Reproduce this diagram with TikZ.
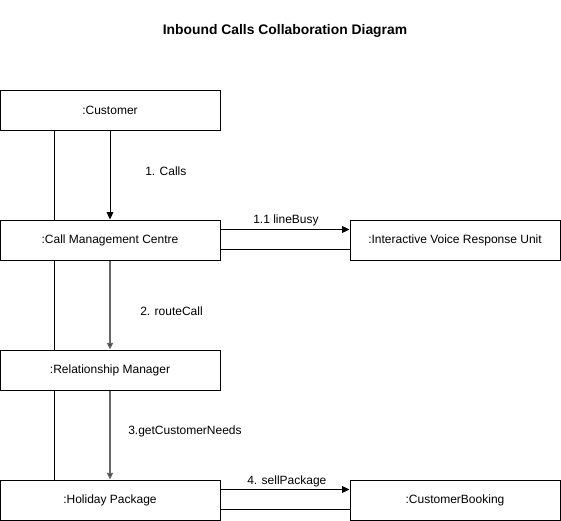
\documentclass[tikz,border=0pt]{standalone}
\usepackage{fontspec}
\setmainfont{Liberation Sans}
\usetikzlibrary{arrows.meta}
\begin{document}
\begin{tikzpicture}[x=0.75pt,y=-0.75pt,
  obj/.style={draw=black,line width=0.75pt,fill=white,minimum height=30pt,inner sep=0pt,font=\fontsize{9}{11}\selectfont},
  wide/.style={obj,minimum width=165pt},
  msg/.style={line width=0.75pt,-{Triangle[length=5.5pt,width=5pt]}},
  gmsg/.style={msg,line width=1.1pt,draw=black!60,-{Triangle[length=5pt,width=4.5pt,fill=black]}},
  link/.style={line width=0.75pt},
  lbl/.style={font=\fontsize{9}{11}\selectfont,inner sep=0pt,anchor=west}]
\useasboundingbox (0,0) rectangle (561,521);
\node[font=\bfseries\fontsize{10.4}{12}\selectfont] (title) at (285,31) {Inbound Calls Collaboration Diagram};
\node[wide] (cust) at (110,110) {:Customer};
\node[wide] (cmc) at (110,240) {:Call Management Centre};
\node[obj,minimum width=157.5pt] (ivr) at (455,240) {:Interactive Voice Response Unit};
\node[wide] (rm) at (110,370) {:Relationship Manager};
\node[wide] (hp) at (110,500) {:Holiday Package};
\node[obj,minimum width=157.5pt] (cb) at (455,500) {:CustomerBooking};
% links
\draw[link] ([xshift=41.25pt]cust.south west) -- ([xshift=41.25pt]cmc.north west);
\draw[link] ([xshift=41.25pt]cmc.south west) -- ([xshift=41.25pt]rm.north west);
\draw[link] ([xshift=41.25pt]rm.south west) -- ([xshift=41.25pt]hp.north west);
\draw[link] ([yshift=-22.5pt]cmc.north east) -- ([yshift=-22.5pt]ivr.north west);
\draw[link] ([yshift=-22.5pt]hp.north east) -- ([yshift=-22.5pt]cb.north west);
% messages
\draw[msg] (cust) -- (cmc);
\draw[gmsg] (cmc) -- (rm);
\draw[gmsg] (rm) -- (hp);
\draw[msg] ([yshift=-7.5pt]cmc.north east) -- ([yshift=-7.5pt]ivr.north west);
\draw[msg] ([yshift=-7.5pt]hp.north east) -- ([yshift=-7.5pt]cb.north west);
% labels
\node[lbl] (l1) at (145,171) {1. Calls};
\node[lbl] (l11) at (253,220) {1.1 lineBusy};
\node[lbl] (l2) at (140,311) {2. routeCall};
\node[lbl] (l3) at (128,431) {3.getCustomerNeeds};
\node[lbl] (l4) at (247,481) {4. sellPackage};
\end{tikzpicture}
\end{document}
